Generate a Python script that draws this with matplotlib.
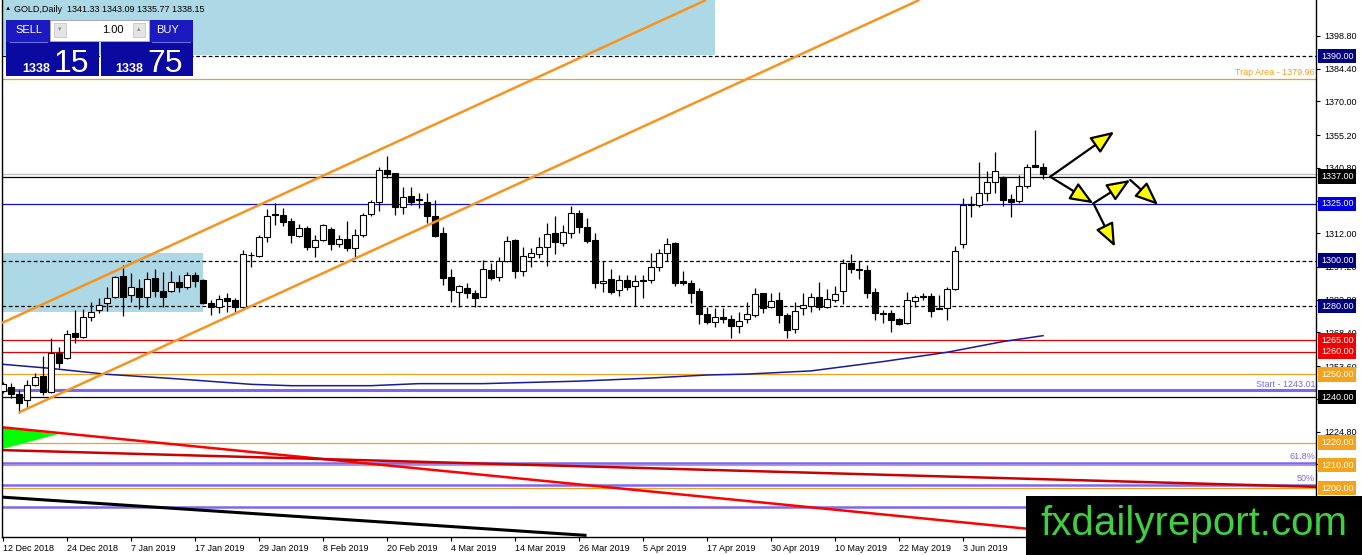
import numpy as np
import matplotlib.pyplot as plt
import matplotlib.transforms as mtransforms
from matplotlib.patches import Rectangle, Polygon

plt.rcParams['font.family'] = ['Liberation Sans', 'DejaVu Sans']

# daily candles, GOLD
opens = [1242.8, 1244.6, 1241.3, 1238.7, 1245.3, 1249.3, 1242.4, 1259.2, 1257.0, 1268.0,
         1266.3, 1275.0, 1278.3, 1281.2, 1284.1, 1293.2, 1284.8, 1287.8, 1283.9, 1292.2,
         1286.6, 1286.8, 1290.5, 1288.3, 1293.7, 1291.5, 1281.5, 1279.5, 1283.4, 1282.7,
         1279.5, 1302.5, 1302.0, 1310.5, 1320.2, 1320.1, 1317.5, 1310.8, 1314.2, 1306.1,
         1309.1, 1313.9, 1307.2, 1309.4, 1305.4, 1311.3, 1320.4, 1325.6, 1339.9, 1338.4,
         1323.5, 1328.4, 1327.0, 1325.9, 1319.6, 1312.0, 1292.7, 1286.3, 1287.8, 1285.6,
         1284.1, 1295.9, 1292.7, 1300.0, 1309.1, 1295.6, 1301.5, 1303.0, 1305.9, 1312.3,
         1307.9, 1312.0, 1321.1, 1314.9, 1309.1, 1290.0, 1291.8, 1287.1, 1291.5, 1288.8,
         1291.5, 1291.5, 1297.1, 1303.2, 1307.9, 1291.0, 1290.0, 1286.8, 1276.4, 1273.1,
         1275.0, 1274.2, 1271.4, 1274.2, 1276.1, 1285.6, 1279.5, 1282.7, 1276.1, 1269.8,
         1279.0, 1280.1, 1283.9, 1279.8, 1282.7, 1286.8, 1298.8, 1296.4, 1295.9, 1286.3,
         1277.1, 1277.1, 1274.2, 1272.7, 1282.4, 1284.2, 1284.4, 1279.0, 1279.0, 1287.4,
         1307.3, 1324.6, 1324.5, 1329.6, 1334.7, 1336.6, 1327.0, 1326.4, 1332.8, 1342.1,
         1341.33]
highs = [1246.8, 1246.1, 1243.1, 1247.5, 1250.5, 1258.1, 1265.8, 1262.1, 1269.5, 1278.3,
         1278.6, 1281.9, 1283.4, 1288.5, 1293.2, 1298.1, 1294.4, 1291.8, 1295.1, 1296.2,
         1295.1, 1295.6, 1293.7, 1295.1, 1295.1, 1291.8, 1282.7, 1284.9, 1285.9, 1283.4,
         1304.6, 1304.0, 1311.3, 1322.6, 1325.2, 1323.0, 1318.6, 1316.1, 1315.2, 1311.3,
         1316.1, 1314.7, 1311.3, 1317.6, 1313.8, 1320.8, 1326.7, 1341.3, 1346.0, 1338.7,
         1332.3, 1332.3, 1329.6, 1329.6, 1326.7, 1314.7, 1296.2, 1289.3, 1290.0, 1287.1,
         1300.3, 1298.8, 1301.5, 1310.8, 1309.4, 1306.1, 1305.4, 1310.3, 1316.4, 1319.6,
         1315.7, 1324.0, 1322.3, 1318.6, 1312.0, 1299.8, 1296.2, 1293.7, 1293.7, 1293.7,
         1293.7, 1303.5, 1305.0, 1309.8, 1308.3, 1295.6, 1291.5, 1287.8, 1279.5, 1279.0,
         1279.0, 1276.1, 1277.5, 1281.9, 1287.8, 1285.9, 1285.6, 1286.3, 1277.1, 1281.9,
         1285.6, 1285.6, 1290.7, 1287.4, 1288.8, 1300.6, 1302.9, 1299.9, 1298.1, 1287.8,
         1278.3, 1278.3, 1274.6, 1286.3, 1284.9, 1285.6, 1285.6, 1284.9, 1288.5, 1306.4,
         1327.4, 1328.4, 1343.5, 1339.6, 1347.9, 1337.2, 1329.3, 1337.7, 1342.5, 1357.5,
         1343.09]
lows = [1241.7, 1239.6, 1233.2, 1235.2, 1244.8, 1240.9, 1241.9, 1252.9, 1256.6, 1263.6,
        1265.8, 1273.6, 1276.8, 1277.9, 1283.4, 1275.7, 1281.9, 1278.6, 1279.5, 1284.1,
        1279.5, 1286.3, 1286.3, 1287.4, 1288.3, 1280.9, 1276.1, 1276.8, 1277.5, 1277.2,
        1279.0, 1297.3, 1301.7, 1308.3, 1315.7, 1315.2, 1307.9, 1310.3, 1304.7, 1301.7,
        1308.8, 1304.7, 1305.9, 1304.2, 1301.7, 1310.5, 1319.6, 1322.0, 1336.2, 1320.1,
        1320.5, 1324.5, 1323.0, 1316.4, 1310.5, 1289.3, 1281.9, 1279.8, 1283.4, 1279.8,
        1283.9, 1291.5, 1291.2, 1299.5, 1292.2, 1293.2, 1297.3, 1301.0, 1297.6, 1302.9,
        1306.4, 1309.8, 1312.0, 1307.6, 1287.8, 1286.3, 1285.3, 1284.4, 1287.1, 1280.1,
        1283.4, 1290.3, 1295.6, 1299.9, 1288.8, 1289.3, 1281.5, 1272.1, 1272.1, 1270.7,
        1272.5, 1265.8, 1268.3, 1272.7, 1275.4, 1277.1, 1279.0, 1272.5, 1265.8, 1268.0,
        1276.1, 1277.5, 1278.3, 1279.0, 1281.9, 1280.9, 1294.4, 1291.8, 1283.4, 1273.9,
        1272.7, 1268.8, 1271.7, 1272.1, 1279.5, 1282.7, 1275.4, 1278.6, 1273.9, 1287.1,
        1305.4, 1319.3, 1323.7, 1326.4, 1329.6, 1324.0, 1319.0, 1325.2, 1331.8, 1341.0,
        1335.77]
closes = [1245.7, 1241.3, 1237.5, 1245.3, 1249.0, 1242.4, 1259.2, 1255.1, 1267.6, 1266.3,
          1275.0, 1277.5, 1280.6, 1283.4, 1292.7, 1284.1, 1288.3, 1284.1, 1291.8, 1286.8,
          1283.9, 1290.5, 1288.3, 1293.7, 1291.2, 1281.2, 1279.5, 1283.0, 1282.4, 1279.8,
          1302.7, 1302.3, 1310.3, 1319.6, 1320.0, 1317.1, 1311.3, 1314.2, 1305.9, 1309.1,
          1315.7, 1307.2, 1309.4, 1305.7, 1311.3, 1320.1, 1325.6, 1339.9, 1338.1, 1323.5,
          1327.9, 1325.9, 1326.7, 1319.6, 1310.8, 1292.5, 1287.1, 1288.8, 1285.6, 1283.4,
          1296.2, 1292.5, 1300.0, 1308.8, 1295.6, 1302.0, 1303.5, 1305.9, 1311.7, 1308.3,
          1312.7, 1320.8, 1314.7, 1308.8, 1290.0, 1291.0, 1286.3, 1291.5, 1288.5, 1291.0,
          1290.9, 1297.1, 1303.2, 1307.3, 1290.3, 1290.0, 1285.9, 1276.4, 1273.1, 1275.0,
          1274.2, 1271.2, 1273.6, 1276.5, 1285.3, 1279.0, 1282.4, 1276.1, 1269.5, 1278.0,
          1280.5, 1283.9, 1279.8, 1283.0, 1285.3, 1298.8, 1296.2, 1296.0, 1285.9, 1276.8,
          1276.5, 1273.9, 1272.1, 1282.7, 1283.9, 1284.0, 1278.0, 1278.6, 1287.4, 1304.4,
          1324.5, 1324.4, 1329.6, 1334.7, 1339.6, 1326.7, 1325.9, 1332.8, 1341.3, 1341.0,
          1338.15]

date_ticks = list(range(0, 121, 8))
date_labels = ['12 Dec 2018', '24 Dec 2018', '7 Jan 2019', '17 Jan 2019', '29 Jan 2019',
               '8 Feb 2019', '20 Feb 2019', '4 Mar 2019', '14 Mar 2019', '26 Mar 2019',
               '5 Apr 2019', '17 Apr 2019', '30 Apr 2019', '10 May 2019', '22 May 2019',
               '3 Jun 2019']
price_ticks = [1398.8, 1384.4, 1370.0, 1355.2, 1340.8, 1326.4, 1312.0, 1297.2, 1282.8,
               1268.4, 1253.6, 1239.2, 1224.8, 1210.4, 1195.6, 1181.2]
# ticks whose labels sit fully under a price box or the watermark
hidden_ticks = [1326.4, 1239.2, 1210.4, 1181.2]

# moving average
ma_bars = [0, 6, 13, 21, 31, 36, 46, 52, 60, 72, 80, 88, 93, 101, 110, 118, 125, 130]
ma_values = [1254.4, 1252.6, 1250.0, 1248.2, 1245.6, 1245.0, 1245.0, 1245.9, 1245.9,
             1247.0, 1248.2, 1249.7, 1250.1, 1251.5, 1255.6, 1259.7, 1264.4, 1267.0]

# horizontal levels with price boxes
level_prices = [1390.0, 1337.0, 1325.0, 1300.0, 1280.0, 1265.0, 1260.0, 1250.0, 1240.0,
                1220.0, 1210.0, 1200.0]
level_colors = ['black', 'black', '#1010c8', 'black', 'black', '#e00000', '#e00000',
                '#f0a020', 'black', '#f0a020', '#f0a020', '#f0a020']
level_styles = ['dash', 'solid', 'solid', 'dash', 'dash', 'solid', 'solid', 'solid',
                'solid', 'solid', 'solid', 'solid']
box_colors = ['#000080', '#000000', '#0000e0', '#000080', '#000080', '#f00000', '#f00000',
              '#f5a31a', '#000000', '#f5a31a', '#f5a31a', '#f5a31a']

bid_price = 1338.15
trap_price = 1379.96
start_price = 1243.01
fib_prices = [1211.2, 1201.5, 1191.8]
fib_labels = ['61.8%', '50%', '']

# trend objects (bar index, price)
upper_channel = ([0, 87.75], [1272.8, 1414.4])
lower_channel = ([2.1, 114.4], [1233.4, 1414.4])
red_line_a = ([-0.4, 164.2], [1226.8, 1169.5])
red_line_b = ([-0.4, 164.2], [1216.7, 1200.5])
black_line = ([-0.4, 72.75], [1196.05, 1179.2])
green_tri = ([-0.05, 6.9, -0.05], [1226.4, 1223.7, 1217.2])
top_zone = ([-1, 89], [1390.6, 1420.0])
mid_zone = ([-1, 25], [1277.5, 1303.5])

arrow_pts = {'o': (130.9, 1336.9), 'a': (138.9, 1356.7), 'b': (136.3, 1325.2),
             'c': (140.9, 1335.5), 'd': (144.4, 1324.5), 'e': (139.0, 1306.1)}
arrow_paths = [('o', 'a'), ('o', 'b'), ('b', 'c'), ('c', 'd'), ('b', 'e')]

W, H = 1362, 555
fig = plt.figure(figsize=(W / 100, H / 100), dpi=100, facecolor='white')
ax = fig.add_axes([2 / W, 18 / H, 1314 / W, 537 / H])
ax.set_xlim(-0.125, 164.125)
ax.set_ylim(1178.45, 1414.63)

# zones
for (bx, py) in [top_zone, mid_zone]:
    ax.add_patch(Rectangle((bx[0], py[0]), bx[1] - bx[0], py[1] - py[0],
                           fc='#add8e6', ec='none', zorder=0.5))

# horizontal levels
for p, col, st in zip(level_prices, level_colors, level_styles):
    ls = (0, (3, 2)) if st == 'dash' else '-'
    ax.axhline(p, color=col, lw=0.9, ls=ls, zorder=1)
ax.axhline(bid_price, color='#c0c0c0', lw=1, zorder=1)
ax.axhline(trap_price, color='#f0a020', lw=0.9, zorder=1)
ax.axhline(start_price, color='#7b68ee', lw=2.2, zorder=1.2)
for p in fib_prices:
    ax.axhline(p, color='#7b68ee', lw=1.8, zorder=1.2)

ax.text(164.0, trap_price + 0.6, 'Trap Area - 1379.96', color='#f0a020', fontsize=6.5,
        ha='right', va='bottom', zorder=6)
ax.text(164.0, start_price + 0.7, 'Start - 1243.01', color='#7b68ee', fontsize=6.5,
        ha='right', va='bottom', zorder=6)
for p, lab in zip(fib_prices, fib_labels):
    ax.text(164.0, p + 0.7, lab, color='#7b68ee', fontsize=6.5, ha='right', va='bottom',
            zorder=6)

# trend lines
ax.plot(*red_line_a, color='#ff0000', lw=1.8, zorder=2)
ax.plot(*red_line_b, color='#cc0000', lw=1.8, zorder=2)
ax.plot(*black_line, color='black', lw=2.2, zorder=2)
ax.add_patch(Polygon(list(zip(*green_tri)), closed=True, fc='#00ff00', ec='none', zorder=1.8))
ax.plot(ma_bars, ma_values, color='#1a1a9a', lw=1.1, zorder=2)

# candles
x = np.arange(len(opens))
o = np.array(opens)
c = np.array(closes)
up = c >= o
ax.vlines(x, lows, highs, color='black', lw=0.9, zorder=3)
body_low = np.minimum(o, c)
body_h = np.maximum(np.abs(c - o), 0.35)
ax.bar(x, body_h, bottom=body_low, width=0.64, color=np.where(up, 'white', 'black'),
       edgecolor='black', linewidth=0.8, zorder=4)

# channel
ax.plot(*upper_channel, color='#f7931e', lw=1.8, zorder=5)
ax.plot(*lower_channel, color='#f7931e', lw=1.8, zorder=5)

# scenario arrows
for a, b in arrow_paths:
    ax.annotate('', xy=arrow_pts[b], xytext=arrow_pts[a], zorder=7,
                arrowprops=dict(arrowstyle='-|>,head_length=1.1,head_width=0.45',
                                fc='#ffff00', ec='black', lw=1.6, mutation_scale=13,
                                shrinkA=0, shrinkB=0))

# axes styling
for s in ['left', 'right', 'bottom']:
    ax.spines[s].set_color('black')
    ax.spines[s].set_linewidth(1)
ax.spines['top'].set_visible(False)
ax.yaxis.tick_right()
ax.set_yticks(price_ticks)
ax.set_yticklabels(['' if t in hidden_ticks else f'{t:.2f}' for t in price_ticks])
ax.set_xticks(date_ticks)
ax.set_xticklabels(date_labels, ha='left')
ax.tick_params(axis='y', direction='out', length=3, pad=3, labelsize=6.5)
ax.tick_params(axis='x', direction='out', length=3, pad=2, labelsize=6.5)

# price boxes on the right scale
trans = mtransforms.blended_transform_factory(ax.transAxes, ax.transData)
for p, bc in zip(level_prices, box_colors):
    ax.text(1 + 5 / 1314, p, f'{p:.2f}', transform=trans, color='white', fontsize=6.5,
            ha='left', va='center', clip_on=False, zorder=10,
            bbox=dict(boxstyle='square,pad=0.3', fc=bc, ec='none'))

# overlay in pixel units: header, trade panel, watermark
ov = fig.add_axes([0, 0, 1, 1], zorder=20)
ov.set_xlim(0, W)
ov.set_ylim(H, 0)
ov.axis('off')
ov.patch.set_alpha(0)

ov.text(5, 9, '\u25b2', fontsize=4.5, va='center', ha='left', color='black')
ov.text(14, 9, 'GOLD,Daily  1341.33 1343.09 1335.77 1338.15', fontsize=6.5,
        va='center', ha='left', color='black')

blue_top = '#1a1ac0'
blue_low = '#0a0aa0'
ov.add_patch(Rectangle((6, 20), 93, 56, fc=blue_low, ec='none'))
ov.add_patch(Rectangle((101, 20), 92, 56, fc=blue_low, ec='none'))
ov.add_patch(Rectangle((6, 20), 44, 22, fc=blue_top, ec='none'))
ov.add_patch(Rectangle((149, 20), 44, 22, fc=blue_top, ec='none'))
ov.add_patch(Rectangle((50, 20), 99, 21, fc='white', ec='#b0b0b0', lw=0.6))
ov.plot([10, 47], [41.5, 41.5], color='#6a6ae0', lw=0.8)
ov.plot([152, 190], [41.5, 41.5], color='#6a6ae0', lw=0.8)
ov.add_patch(Rectangle((54, 23), 12, 14, fc='#e4e4e4', ec='#c0c0c0', lw=0.5))
ov.add_patch(Rectangle((133, 23), 12, 14, fc='#e4e4e4', ec='#c0c0c0', lw=0.5))
ov.text(60, 30, '\u25be', fontsize=5, ha='center', va='center', color='#909090')
ov.text(139, 30, '\u25b4', fontsize=5, ha='center', va='center', color='#909090')
ov.text(124, 30, '1.00', fontsize=8, ha='right', va='center', color='black')
ov.text(15, 30, 'SELL', fontsize=8, ha='left', va='center', color='white')
ov.text(156, 30, 'BUY', fontsize=8, ha='left', va='center', color='white')
ov.text(50, 72, '1338', fontsize=9, ha='right', va='baseline', color='white', fontweight='bold')
ov.text(54, 72, '15', fontsize=23, ha='left', va='baseline', color='white')
ov.text(143, 72, '1338', fontsize=9, ha='right', va='baseline', color='white', fontweight='bold')
ov.text(147, 72, '75', fontsize=23, ha='left', va='baseline', color='white')

ov.add_patch(Rectangle((1026, 496), W - 1026, H - 496, fc='black', ec='none'))
ov.text(1040, 524, 'fxdailyreport.com', fontsize=29, ha='left', va='center',
        color='#3fcf3f')

fig.savefig('out.png', dpi=100, facecolor='white')
